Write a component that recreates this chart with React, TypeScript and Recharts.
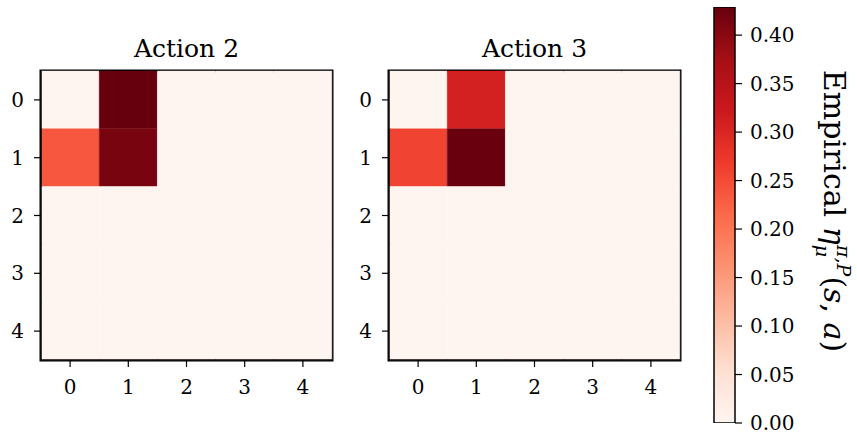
import { BarChart, Bar, XAxis, YAxis, Cell, ReferenceArea } from 'recharts';

const colLabels = ['0', '1', '2', '3', '4'];
const rowIds = [0, 1, 2, 3, 4];

// rows = state row, columns = state column
const action2Values = [
  [0, 0.429, 0, 0, 0],
  [0.236, 0.414, 0, 0, 0],
  [0, 0, 0, 0, 0],
  [0, 0, 0, 0, 0],
  [0, 0, 0, 0, 0],
];

const action3Values = [
  [0, 0.31, 0, 0, 0],
  [0.259, 0.428, 0, 0, 0],
  [0, 0, 0, 0, 0],
  [0, 0, 0, 0, 0],
  [0, 0, 0, 0, 0],
];

const colorbarTicks = [0, 0.05, 0.1, 0.15, 0.2, 0.25, 0.3, 0.35, 0.4];
const vmax = 0.429;

const reds = ['#fff5f0', '#fee0d2', '#fcbba1', '#fc9272', '#fb6a4a', '#ef3b2c', '#cb181d', '#a50f15', '#67000d'];

const serif = '"DejaVu Serif", serif';

function hexToRgb(h: string) {
  return [1, 3, 5].map((i) => parseInt(h.slice(i, i + 2), 16));
}

function redsColor(v: number) {
  const t = Math.max(0, Math.min(1, v / vmax)) * (reds.length - 1);
  const i = Math.min(Math.floor(t), reds.length - 2);
  const f = t - i;
  const a = hexToRgb(reds[i]);
  const b = hexToRgb(reds[i + 1]);
  const c = a.map((x, k) => Math.round(x + (b[k] - x) * f));
  return `rgb(${c[0]},${c[1]},${c[2]})`;
}

const tickStyle = { fill: '#000', fontSize: 20, fontFamily: serif };
const spine = { stroke: '#000', strokeWidth: 1.5 };
const tickLn = { stroke: '#000', strokeWidth: 1.2 };

function Heatmap({ title, values, left }: { title: string; values: number[][]; left: number }) {
  // one stacked segment of height 1 per row, so the y scale places every cell
  const data = colLabels.map((c) => {
    const d: any = { col: c };
    rowIds.forEach((r) => (d['r' + r] = 1));
    return d;
  });

  return (
    <div style={{ position: 'absolute', left, top: 0 }}>
      <div
        style={{
          position: 'absolute',
          left: 41,
          width: 291,
          top: 36,
          textAlign: 'center',
          fontFamily: serif,
          fontSize: 25,
          lineHeight: '25px',
          color: '#000',
        }}
      >
        {title}
      </div>
      <BarChart
        width={340}
        height={420}
        data={data}
        margin={{ top: 71, right: 8, left: 0, bottom: 0 }}
        barCategoryGap={0}
        barGap={0}
      >
        {/* frame; cells cover its inner half, so it is drawn twice as wide */}
        <ReferenceArea
          x1="0"
          x2="4"
          y1={0}
          y2={5}
          fill="none"
          fillOpacity={0}
          stroke="#000"
          strokeWidth={3}
          ifOverflow="visible"
        />
        {rowIds.map((r) => (
          <Bar key={r} dataKey={'r' + r} stackId="s" isAnimationActive={false}>
            {colLabels.map((c, j) => (
              <Cell key={c} fill={redsColor(values[r][j])} stroke={redsColor(values[r][j])} strokeWidth={0.4} />
            ))}
          </Bar>
        ))}
        <XAxis
          dataKey="col"
          height={60}
          tick={tickStyle}
          tickSize={7}
          tickMargin={13}
          tickLine={tickLn}
          axisLine={spine}
        />
        <YAxis
          type="number"
          domain={[0, 5]}
          reversed
          ticks={[0.5, 1.5, 2.5, 3.5, 4.5]}
          tickFormatter={(v: number) => String(Math.floor(v))}
          width={41}
          tick={tickStyle}
          tickSize={7}
          tickMargin={10}
          tickLine={tickLn}
          axisLine={spine}
        />
      </BarChart>
    </div>
  );
}

function Colorbar() {
  const data = [{ name: 'cbar', v: vmax }];
  return (
    <div style={{ position: 'absolute', left: 700, top: 0 }}>
      <BarChart
        width={100}
        height={437}
        data={data}
        margin={{ top: 7, right: 0, left: 14, bottom: 14 }}
        barCategoryGap={0}
      >
        <defs>
          <linearGradient id="redsGrad" x1="0" y1="1" x2="0" y2="0">
            {reds.map((c, i) => (
              <stop key={c} offset={`${(i / (reds.length - 1)) * 100}%`} stopColor={c} />
            ))}
          </linearGradient>
        </defs>
        <XAxis dataKey="name" hide />
        <YAxis
          orientation="right"
          type="number"
          domain={[0, vmax]}
          allowDataOverflow
          ticks={colorbarTicks}
          tickFormatter={(v: number) => v.toFixed(2)}
          width={65}
          tick={tickStyle}
          tickSize={7}
          tickMargin={8}
          tickLine={tickLn}
          axisLine={false}
        />
        <Bar dataKey="v" fill="url(#redsGrad)" stroke="#000" strokeWidth={1.5} isAnimationActive={false} />
      </BarChart>
    </div>
  );
}

export default function App() {
  return (
    <div style={{ position: 'relative', width: 857, height: 437, background: '#fff', overflow: 'hidden' }}>
      <style>{`body{margin:0}`}</style>
      <Heatmap title="Action 2" values={action2Values} left={0} />
      <Heatmap title="Action 3" values={action3Values} left={348} />
      <Colorbar />
      <svg width={857} height={437} style={{ position: 'absolute', left: 0, top: 0, pointerEvents: 'none' }}>
        <text
          transform="translate(824,211) rotate(90)"
          textAnchor="middle"
          fontFamily={serif}
          fontSize={30}
          fill="#000"
        >
          <tspan>Empirical </tspan>
          <tspan fontStyle="italic">η</tspan>
          <tspan fontStyle="italic" fontSize={19} dy={8}>μ</tspan>
          <tspan fontStyle="italic" fontSize={19} dx={-12} dy={-21}>π,P</tspan>
          <tspan dy={13}>(</tspan>
          <tspan fontStyle="italic">s</tspan>
          <tspan>, </tspan>
          <tspan fontStyle="italic">a</tspan>
          <tspan>)</tspan>
        </text>
      </svg>
    </div>
  );
}
